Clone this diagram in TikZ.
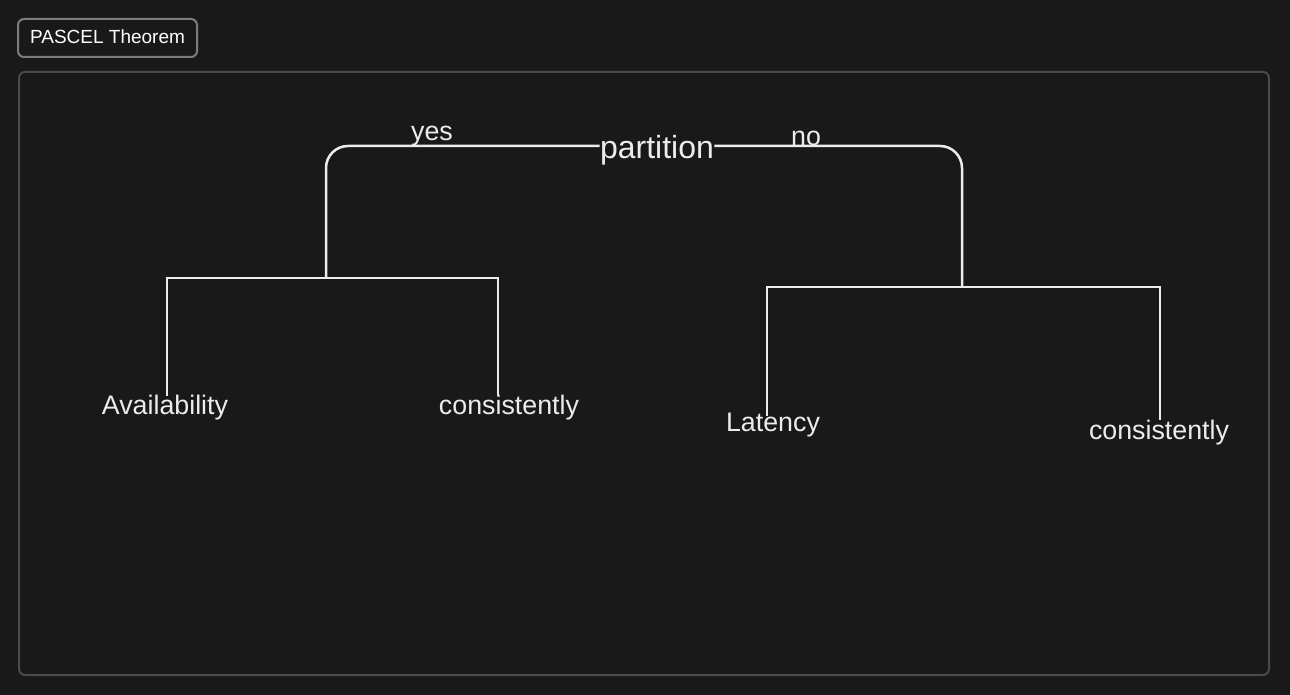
\documentclass[tikz,border=0pt]{standalone}
\usepackage{fontspec}
\setmainfont{Liberation Sans}
\usepackage{xcolor}
\usetikzlibrary{positioning,calc}
\definecolor{canvas}{HTML}{191919}
\definecolor{ink}{HTML}{ECECEC}
\definecolor{boxgray}{HTML}{7C7C7C}
\definecolor{framegray}{HTML}{4A4A4A}

\begin{document}
\begin{tikzpicture}[x = .5pt, y = -.5pt,
    branch/.style = {draw = ink, line width = 1.25pt},
    word/.style = {text = ink, inner sep = 0pt, font = \fontsize{13.4}{16}\selectfont}]
    \fill[canvas] (0,0) rectangle (1290,695);
    \useasboundingbox (0,0) rectangle (1290,695);
    % frame and title
    \draw[framegray, line width = 1pt, rounded corners = 3pt] (19,72) rectangle (1269,675);
    \node[draw = boxgray, line width = 1pt, rounded corners = 3pt, text = white,
          minimum width = 89.5pt, minimum height = 19pt, inner sep = 0pt,
          font = \fontsize{9.5}{11}\selectfont] (title) at (107.5,38) {\raisebox{1pt}{PASCEL Theorem}};
    % nodes
    \node[word, font = \fontsize{16}{19}\selectfont] (part) at (657,150) {partition};
    \node[word] (yes) at (432,136) {yes};
    \node[word] (no) at (806,138) {no};
    \node[word] (avail) at (165,408) {Availability};
    \node[word] (consa) at (509,408) {consistently};
    \node[word] (lat) at (773,425) {Latency};
    \node[word] (consb) at (1159,433) {consistently};
    \coordinate (ltop) at (326,146);
    \coordinate (rtop) at (962,146);
    \coordinate (ljoin) at (326,278);
    \coordinate (rjoin) at (962,287);
    % top branches
    \draw[branch, rounded corners = 11pt] (part.west |- ltop) -- (ltop) -- (ljoin);
    \draw[branch, rounded corners = 11pt] (part.east |- rtop) -- (rtop) -- (rjoin);
    % lower branches
    \draw[branch] ($(avail.north)+(2,1)$) |- (ljoin) -| ($(consa.north)+(-11,0)$);
    \draw[branch] ($(lat.north)+(-6,3)$) |- (rjoin) -| ($(consb.north)+(1,0)$);
\end{tikzpicture}
\end{document}
